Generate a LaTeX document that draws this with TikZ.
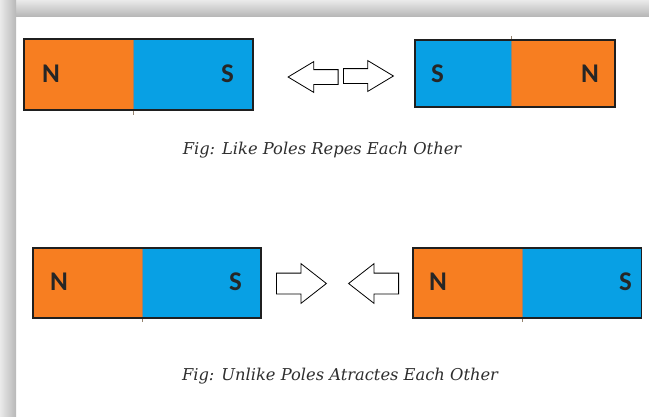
\documentclass[tikz,border=0pt]{standalone}
\usepackage{fontspec}
\usepackage{tikz}
\usetikzlibrary{shapes.arrows}
\newfontfamily\polefont{Carlito}
\newfontfamily\captionfont{DejaVu Serif}
\definecolor{poleorange}{RGB}{247,126,33}
\definecolor{poleblue}{RGB}{8,160,228}
\definecolor{framelight}{RGB}{234,234,234}
\definecolor{framedark}{RGB}{184,184,184}
\definecolor{splitcol}{RGB}{150,132,112}

\begin{document}
\begin{tikzpicture}[x=1bp,y=-1bp,line join=miter,
  half/.style={rectangle,inner sep=0pt,outer sep=0pt,
               minimum width=#1bp,anchor=north west},
  northhalf/.style={half=#1,fill=poleorange},
  southhalf/.style={half=#1,fill=poleblue},
  magline/.style={draw=black!88,line width=1.3bp},
  split/.style={draw=splitcol,line width=0.8bp},
  polelabel/.style={inner sep=0pt,text=black!85,
                    font=\polefont\bfseries\fontsize{27bp}{30bp}\selectfont},
  pushpull/.style={single arrow,draw=black,fill=white,line width=0.8bp,
                   inner sep=0pt,minimum height=50bp},
  small/.style={inner ysep=7bp,single arrow head extend=8bp,single arrow tip angle=62},
  large/.style={inner ysep=10bp,single arrow head extend=9.5bp,single arrow tip angle=76},
  caption/.style={inner sep=0pt,anchor=base,text=black!82,
                  font=\captionfont\itshape\fontsize{16.3bp}{19bp}\selectfont},
  ]
\useasboundingbox (0,0) rectangle (649,416);
\fill[white] (0,0) rectangle (649,416);
%% frame
\shade[top color=framelight,bottom color=framedark] (0,0) rectangle (649,16);
\shade[left color=framelight,right color=framedark] (0,0) rectangle (16,416);
%% like poles
\node[northhalf=109,minimum height=71bp] (mag1_n) at (24,39) {};
\node[southhalf=120,minimum height=71bp] (mag1_s) at (mag1_n.north east) {};
\node[southhalf=96,minimum height=67bp] (mag2_s) at (415,40) {};
\node[northhalf=104,minimum height=67bp] (mag2_n) at (mag2_s.north east) {};
\draw[split] (mag1_n.north east) -- ([yshift=-5bp]mag1_n.south east);
\draw[split] ([yshift=4bp]mag2_s.north east) -- (mag2_s.south east);
\draw[magline] (mag1_n.north west) rectangle (mag1_s.south east);
\draw[magline] (mag2_s.north west) rectangle (mag2_n.south east);
\node[polelabel,anchor=base west] (mag1_nl) at (42,82) {N};
\node[polelabel,anchor=base east] (mag1_sl) at (234,82) {S};
\node[polelabel,anchor=base west] (mag2_sl) at (431,82) {S};
\node[polelabel,anchor=base east] (mag2_nl) at (599,82) {N};
\node[pushpull,small,shape border rotate=180,anchor=tail] (arr1_l) at (338.5,77) {};
\node[pushpull,small,anchor=tail] (arr1_r) at (343,76) {};
\node[caption] (cap_like) at (322,154) {Fig: Like Poles Repes Each Other};
%% unlike poles
\node[northhalf=109,minimum height=70bp] (mag3_n) at (33,248) {};
\node[southhalf=119,minimum height=70bp] (mag3_s) at (mag3_n.north east) {};
\node[northhalf=109,minimum height=70bp] (mag4_n) at (413,248) {};
\node[southhalf=119.5,minimum height=70bp] (mag4_s) at (mag4_n.north east) {};
\draw[split] (mag3_n.north east) -- ([yshift=-4bp]mag3_n.south east);
\draw[split] (mag4_n.north east) -- ([yshift=-4bp]mag4_n.south east);
\draw[magline] (mag3_n.north west) rectangle (mag3_s.south east);
\draw[magline] (mag4_n.north west) rectangle (mag4_s.south east);
\node[polelabel,anchor=base west] (mag3_nl) at (50,290) {N};
\node[polelabel,anchor=base east] (mag3_sl) at (242,290) {S};
\node[polelabel,anchor=base west] (mag4_nl) at (429,290) {N};
\node[polelabel,anchor=base east] (mag4_sl) at (632,290) {S};
\node[pushpull,large,anchor=tail] (arr2_r) at (276,283.5) {};
\node[pushpull,large,shape border rotate=180,anchor=tail] (arr2_l) at (399,283.5) {};
\node[caption] (cap_unlike) at (340,380) {Fig: Unlike Poles Atractes Each Other};
%
\end{tikzpicture}
\end{document}
